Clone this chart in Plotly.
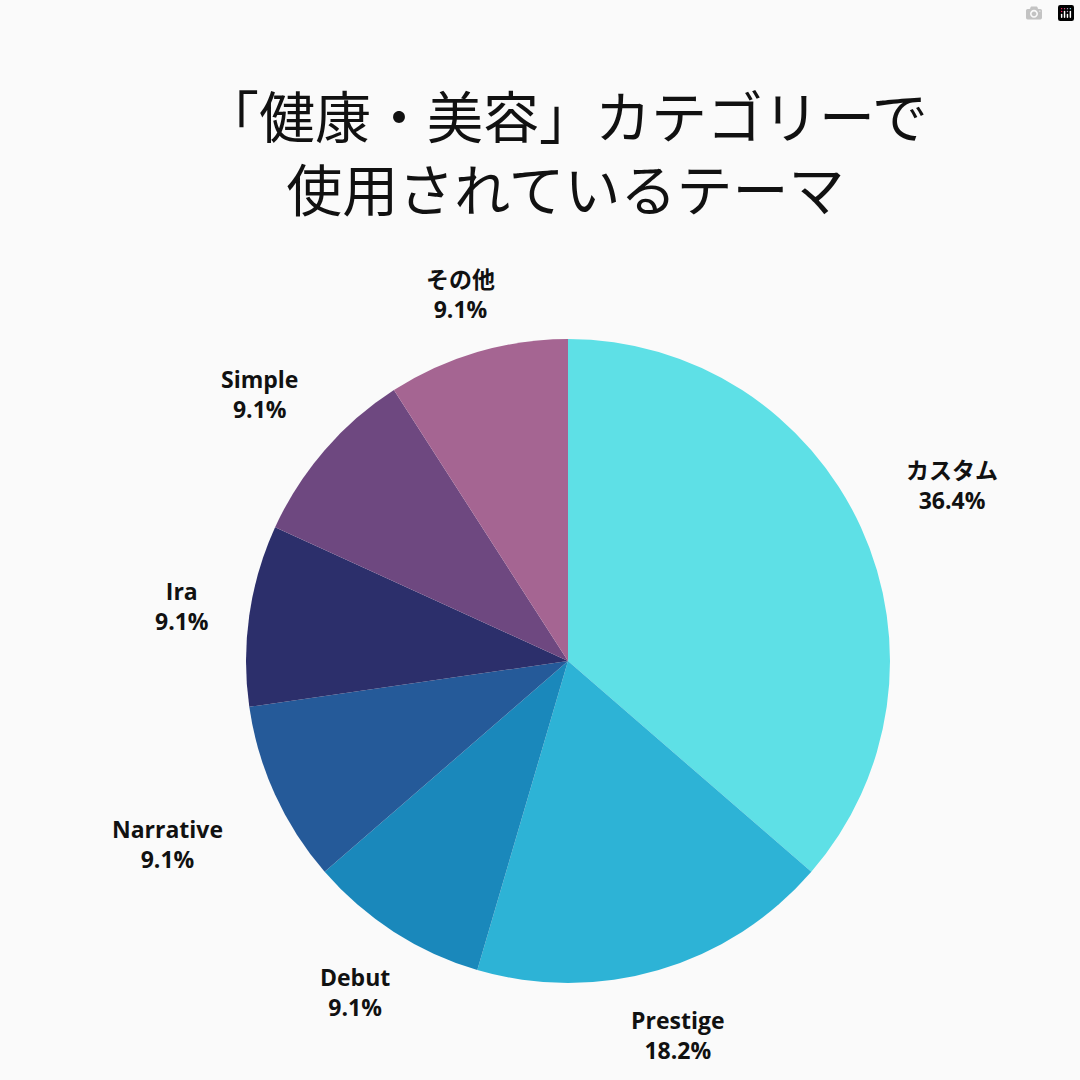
import numpy as np
import plotly.graph_objects as go

labels = ["カスタム", "Prestige", "Debut", "Narrative", "Ira", "Simple", "その他"]
values = [4, 2, 1, 1, 1, 1, 1]
colors = ["#5ee0e6", "#2db3d6", "#1a88bb", "#255a99", "#2c2f6b", "#6e4880", "#a56592"]
title_text = "「健康・美容」カテゴリーで<br>使用されているテーマ"

W = H = 1080
cx, cy, R = 568, 661, 322

fig = go.Figure()
fig.add_trace(go.Pie(
    labels=labels, values=values, sort=False, direction="clockwise", rotation=0,
    marker=dict(colors=colors, line=dict(width=0)), textinfo="none", hoverinfo="label+percent",
    domain=dict(x=[(cx - R) / W, (cx + R) / W], y=[1 - (cy + R) / H, 1 - (cy - R) / H]),
    showlegend=False,
))


def text_width(s):
    return sum(13 if c.isascii() else 23 for c in s)


# outside labels, placed at the middle angle of each slice
total = sum(values)
cum = 0
for lab, v in zip(labels, values):
    mid = (cum + v / 2) / total * 2 * np.pi
    cum += v
    pct = f"{v / total * 100:.1f}%"
    half_w = (max(text_width(lab), text_width(pct)) / 2 + 4) * 1.6
    half_h = 28
    d = R * 1.05 + abs(np.sin(mid)) * half_w + abs(np.cos(mid)) * half_h
    x = cx + d * np.sin(mid)
    y = cy - d * np.cos(mid)
    fig.add_annotation(x=x / W, y=1 - y / H, xref="paper", yref="paper", showarrow=False,
                       xanchor="center", yanchor="middle",
                       text=f"<b>{lab}<br>{pct}</b>", align="center",
                       font=dict(size=23, color="#111111", family="Open Sans, Noto Sans CJK JP"))

fig.add_annotation(x=565 / W, y=1 - 150 / H, xref="paper", yref="paper", showarrow=False,
                   xanchor="center", yanchor="middle",
                   text=title_text, align="center",
                   font=dict(size=56, color="#111111", family="Noto Sans CJK JP"))

fig.update_layout(width=W, height=H, margin=dict(l=0, r=0, t=0, b=0),
                  paper_bgcolor="#fafafa", plot_bgcolor="#fafafa")
fig.write_html("out.html", post_script="document.body.style.margin='0';document.body.style.background='#fafafa';")
